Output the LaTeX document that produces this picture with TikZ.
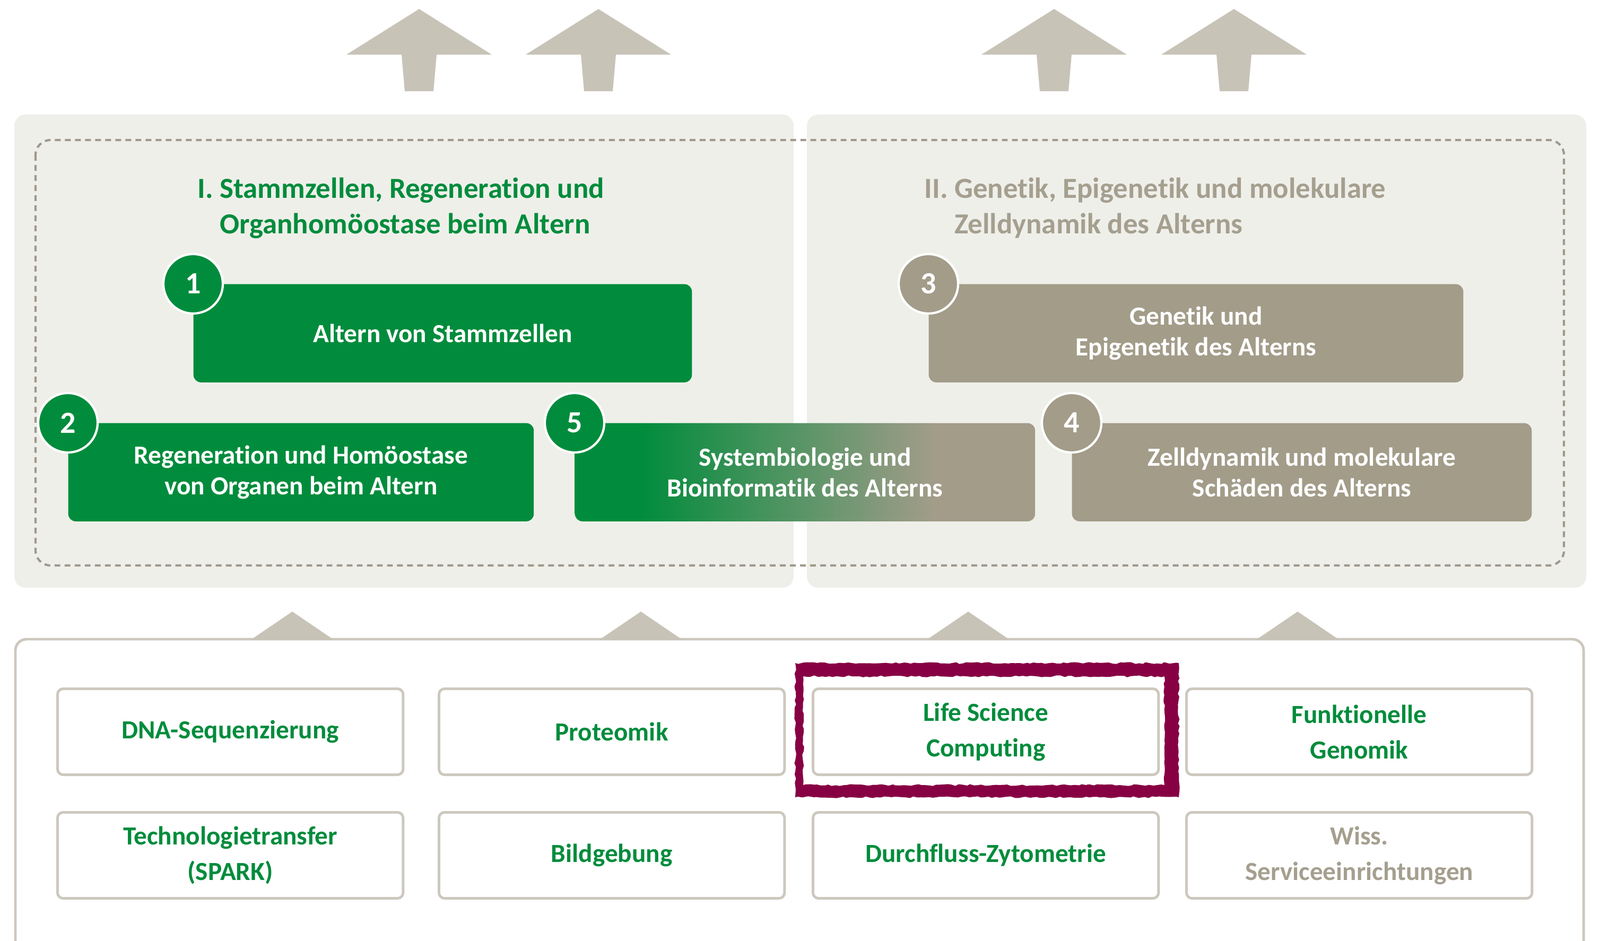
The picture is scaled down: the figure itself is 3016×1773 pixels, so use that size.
\documentclass[tikz,border=0pt]{standalone}
\usepackage{fontspec}
\setmainfont{Carlito}[Ligatures=NoCommon]
\usepackage{xcolor}
\usetikzlibrary{calc}
\usetikzlibrary{positioning}
\usetikzlibrary{decorations.pathmorphing}
\definecolor{mpigreen}{RGB}{0,140,60}
\definecolor{mpigray}{RGB}{162,156,137}
\definecolor{titlegray}{RGB}{165,159,143}
\definecolor{arrowgray}{RGB}{200,195,183}
\definecolor{panelgray}{RGB}{239,239,234}
\definecolor{dashgray}{RGB}{160,154,140}
\definecolor{framegray}{RGB}{205,200,190}
\definecolor{wine}{RGB}{135,0,68}
\pgfdeclarehorizontalshading{greentogray}{100bp}{color(0bp)=(mpigreen); color(32bp)=(mpigreen); color(64bp)=(mpigray); color(100bp)=(mpigray)}
\tikzset{
  topic/.style={rounded corners=4pt, text=white, align=center, anchor=north west,
    minimum height=1.85cm, inner sep=0pt,
    font=\fontsize{14}{16.3}\selectfont\bfseries},
  numcirc/.style={circle, draw=white, line width=1.2pt, minimum size=1.12cm,
    inner sep=0pt, text=white, font=\fontsize{16.5}{16.5}\selectfont\bfseries},
  facility/.style={draw=framegray, line width=1.4pt, fill=white, rounded corners=3pt,
    minimum width=6.51cm, minimum height=1.62cm, anchor=north west, align=center,
    text=mpigreen, font=\fontsize{14}{19}\selectfont\bfseries},
  areatitle/.style={anchor=base west, align=left, inner sep=0pt,
    font=\fontsize{15.6}{19}\selectfont\bfseries},
}

\begin{document}
\begin{tikzpicture}[x=0.01cm,y=-0.01cm]
  \useasboundingbox (0,0) rectangle (3016,1773);
  % arrows on top
  \foreach \cx in {790,1128,1987,2326}
    \fill[arrowgray] (\cx,17) -- (\cx+137,103) -- (\cx+33,103) -- (\cx+27,172)
      -- (\cx-27,172) -- (\cx-33,103) -- (\cx-137,103) -- cycle;
  % the two research areas
  \fill[panelgray, rounded corners=6pt] (27,216) rectangle (1496,1108);
  \fill[panelgray, rounded corners=6pt] (1521,216) rectangle (2990,1108);
  \draw[dashgray, line width=1.2pt, dash pattern=on 3.1pt off 2.3pt, rounded corners=8pt]
    (67,264) rectangle (2948,1066);
  \node[areatitle, text=mpigreen] (area1) at (372,440)
    {I.\ Stammzellen, Regeneration und\\\hphantom{I.\ }Organhomöostase beim Altern};
  \node[areatitle, text=titlegray] (area2) at (1742,440)
    {II.\ Genetik, Epigenetik und molekulare\\\hphantom{II.\ }Zelldynamik des Alterns};
  % topics
  \node[topic, fill=mpigreen, minimum width=9.39cm] (altern) at (364,535) {Altern von Stammzellen};
  \node[topic, fill=mpigray, minimum width=10.07cm] (genetik) at (1750,535)
    {Genetik und\\Epigenetik des Alterns};
  \node[topic, fill=mpigreen, minimum width=8.77cm] (regen) at (128,797)
    {Regeneration und Homöostase\\von Organen beim Altern};
  \node[topic, shading=greentogray, minimum width=8.67cm] (systbio) at (1083,797)
    {Systembiologie und\\Bioinformatik des Alterns};
  \node[topic, fill=mpigray, minimum width=8.66cm] (zelldyn) at (2020,797)
    {Zelldynamik und molekulare\\Schäden des Alterns};
  \node[numcirc, fill=mpigreen] (num1) at (altern.north west) {1};
  \node[numcirc, fill=mpigreen] (num2) at (regen.north west) {2};
  \node[numcirc, fill=mpigray] (num3) at (genetik.north west) {3};
  \node[numcirc, fill=mpigray] (num4) at (zelldyn.north west) {4};
  \node[numcirc, fill=mpigreen] (num5) at (systbio.north west) {5};
  % facilities
  \draw[framegray, line width=1.4pt, rounded corners=6pt] (29,1800) -- (29,1205) -- (2985,1205) -- (2985,1800);
  \foreach \cx in {551,1208,1825,2446}
    \fill[arrowgray] (\cx,1153) -- (\cx+78,1206) -- (\cx-78,1206) -- cycle;
  \node[facility] (dna) at (106,1296) {DNA-Sequenzierung};
  \node[facility] (proteom) at (825,1296) {Proteomik};
  \node[facility] (lsc) at (1530,1296) {Life Science\\Computing};
  \node[facility] (fgen) at (2234,1296) {Funktionelle\\Genomik};
  \node[facility] (spark) at (106,1529) {Technologietransfer\\(SPARK)};
  \node[facility] (bild) at (825,1529) {Bildgebung};
  \node[facility] (zyto) at (1530,1529) {Durchfluss-Zytometrie};
  \node[facility, text=titlegray] (service) at (2234,1529) {Wiss.\\Serviceeinrichtungen};
  % brush frame
  \fill[wine, even odd rule, decorate, decoration={random steps, segment length=2pt, amplitude=0.5pt}]
    (1499,1250) -- (2222,1250) -- (2222,1503) -- (1499,1503) -- cycle
    (1514,1275) -- (2195,1275) -- (2195,1480) -- (1514,1480) -- cycle;
\end{tikzpicture}
\end{document}
